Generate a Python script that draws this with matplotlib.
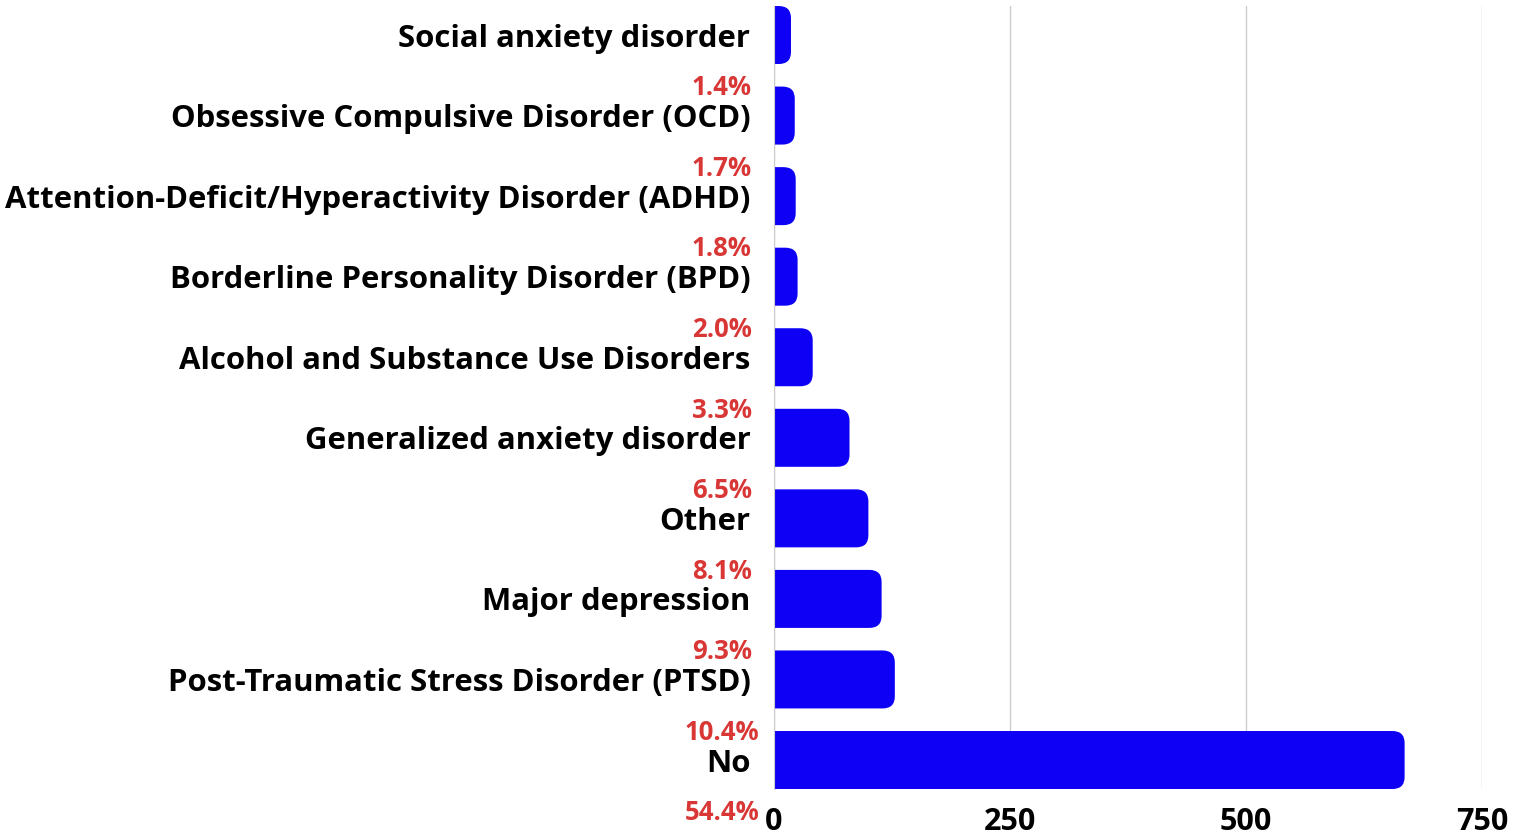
import matplotlib.pyplot as plt
from matplotlib.patches import FancyBboxPatch

categories = [
    "Social anxiety disorder",
    "Obsessive Compulsive Disorder (OCD)",
    "Attention-Deficit/Hyperactivity Disorder (ADHD)",
    "Borderline Personality Disorder (BPD)",
    "Alcohol and Substance Use Disorders",
    "Generalized anxiety disorder",
    "Other",
    "Major depression",
    "Post-Traumatic Stress Disorder (PTSD)",
    "No",
]
counts = [18, 22, 23, 25, 41, 80, 100, 114, 128, 668]
percents = ["1.4%", "1.7%", "1.8%", "2.0%", "3.3%", "6.5%", "8.1%", "9.3%", "10.4%", "54.4%"]
xticks = [0, 250, 500, 750]

plt.rcParams["font.family"] = ["Open Sans", "DejaVu Sans"]
plt.rcParams["font.weight"] = "bold"

fig = plt.figure(figsize=(15.23, 8.36), dpi=100)
ax = fig.add_axes([0.5082, 0.0562, 0.4649, 0.9366])

ypos = list(range(len(categories)))
bars = ax.barh(ypos, counts, height=0.72, color="#0d00f5")

# swap plain bars for ones with rounded right ends
for b in bars:
    x0, y0, w, h = b.get_x(), b.get_y(), b.get_width(), b.get_height()
    b.set_visible(False)
    patch = FancyBboxPatch((x0 - 30, y0), w + 30, h,
                           boxstyle="round,pad=0,rounding_size=13",
                           mutation_aspect=0.0115,
                           facecolor="#0d00f5", edgecolor="none", zorder=3)
    ax.add_patch(patch)

ax.set_xlim(0, 750)
ax.set_ylim(len(categories) - 1 + 0.36, -0.36)

ax.set_xticks(xticks)
ax.set_xticklabels([str(t) for t in xticks], fontsize=22, fontweight="bold")
ax.set_yticks(ypos)
ax.set_yticklabels(categories, fontsize=22.4, fontweight="bold")
ax.tick_params(axis="both", length=0)
ax.tick_params(axis="y", pad=17)
ax.tick_params(axis="x", pad=13)

ax.grid(axis="x", color="#cccccc", linewidth=1)
ax.set_axisbelow(True)
for s in ["top", "right", "bottom"]:
    ax.spines[s].set_visible(False)
ax.spines["left"].set_color("#cccccc")
ax.spines["left"].set_zorder(4)

# percentage labels sit under each category label
for y, p in zip(ypos, percents):
    ax.annotate(p, xy=(0, y), xycoords=("axes fraction", "data"),
                xytext=(-37.5, -38), textcoords="offset points",
                ha="center", va="center", fontsize=18.5, fontweight="bold",
                color="#d93636", annotation_clip=False)

fig.savefig("out.png", dpi=100)
